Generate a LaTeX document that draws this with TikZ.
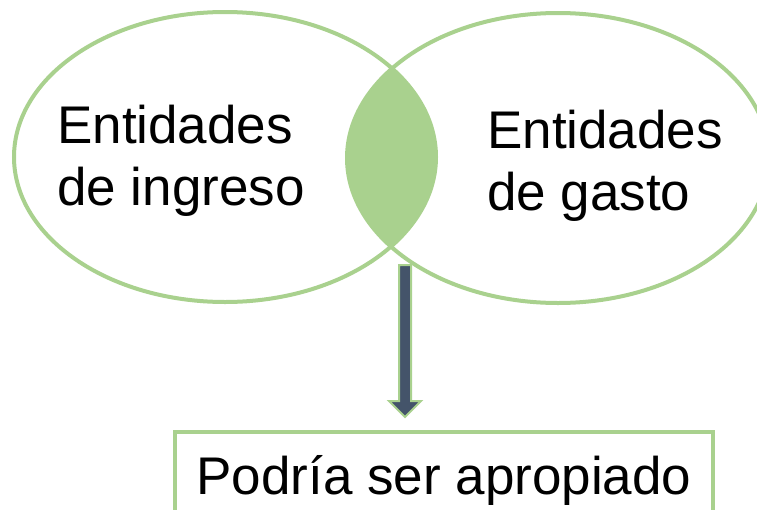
\documentclass[tikz,border=0pt]{standalone}
\usepackage{fontspec}
\setmainfont{Liberation Sans}
\usetikzlibrary{shapes.arrows}
\definecolor{vennGreen}{HTML}{A9D18E}
\definecolor{arrowSlate}{HTML}{44546A}
\begin{document}
\begin{tikzpicture}[x=1pt, y=-1pt,
  ring/.style={draw=vennGreen, line width=4pt},
  big/.style={font=\fontsize{53}{62}\selectfont, align=left, inner sep=0pt},
  downarrow/.style={single arrow, draw=vennGreen, fill=arrowSlate, line width=2pt,
    minimum height=152pt, inner xsep=0pt, inner ysep=5pt,
    single arrow head extend=10pt, single arrow tip angle=90,
    single arrow head indent=0pt, rotate=-90}]
\useasboundingbox (0,0) rectangle (757,509);
\clip (0,0) rectangle (757,509);
% Overlap of the two sets
\begin{scope}
  \clip (225,157) ellipse [x radius=211pt, y radius=145pt];
  \fill[vennGreen] (558,158) ellipse [x radius=211pt, y radius=145pt];
\end{scope}
% The two sets
\draw[ring] (225,157) ellipse [x radius=211pt, y radius=145pt];
\draw[ring] (558,158) ellipse [x radius=211pt, y radius=145pt];
\node[big, anchor=base west] (ingreso) at (57,205) {Entidades\\de ingreso};
\node[big, anchor=base west] (gasto) at (487,210) {Entidades\\de gasto};
% Arrow down to the conclusion
\coordinate (lens) at (405,264);
\node[downarrow, anchor=tail] (arr) at (lens) {};
\node[draw=vennGreen, line width=4pt, anchor=north, minimum width=538pt,
  text height=38pt, text depth=60pt, inner ysep=24pt,
  font=\fontsize{53}{62}\selectfont] (box) at (444,430) {Podría ser apropiado};
\end{tikzpicture}
\end{document}
